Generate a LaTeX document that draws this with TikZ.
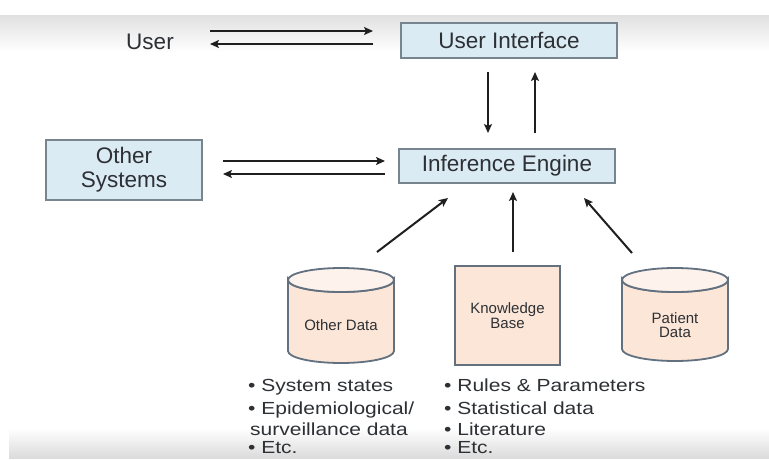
\documentclass[tikz,border=0pt]{standalone}
\usepackage{fontspec}
\setmainfont{Liberation Sans}
\usetikzlibrary{arrows.meta}
\definecolor{boxfill}{RGB}{219,235,243}
\definecolor{boxdraw}{RGB}{120,133,143}
\definecolor{cylfill}{RGB}{252,230,216}
\definecolor{cyltop}{RGB}{253,242,236}
\definecolor{cyldraw}{RGB}{98,112,128}
\definecolor{txt}{RGB}{45,48,52}
\newcommand{\widetxt}[1]{\scalebox{1.2}[1]{#1}}
\begin{document}
\begin{tikzpicture}[x=1pt,y=-1pt,
  bluebox/.style={draw=boxdraw, fill=boxfill, line width=1.6pt, text=txt,
    font=\fontsize{22.5}{24}\selectfont, inner sep=0pt, align=center},
  headtxt/.style={text=txt, font=\fontsize{22.5}{24}\selectfont, inner sep=0pt, align=center},
  smalltxt/.style={text=txt, font=\fontsize{15}{15}\selectfont, inner sep=0pt, align=center},
  listtxt/.style={text=txt, font=\fontsize{17.5}{20}\selectfont, inner sep=0pt, anchor=base west},
  cylbody/.style={draw=cyldraw, fill=cylfill, line width=1.8pt},
  cyltopst/.style={draw=cyldraw, fill=cyltop, line width=1.8pt},
  arr/.style={draw=black!88, line width=2pt, -{Stealth[length=9pt,width=8pt,inset=2pt]}}]
% background
\useasboundingbox (0,0) rectangle (769,459);
\fill[white] (0,0) rectangle (769,459);
\shade[top color=black!12, bottom color=white] (0,15) rectangle (769,52);
\shade[top color=white, bottom color=black!14] (9,428) rectangle (769,458);

% top row
\node[headtxt] (user) at (150,42) {User};
\node[bluebox, minimum width=216pt, minimum height=35pt] (ui) at (509,40.5) {User Interface};

% middle row
\node[bluebox, minimum width=156pt, minimum height=60pt] (os) at (124,170) {Other\\Systems};
\node[bluebox, minimum width=216pt, minimum height=34pt] (ie) at (507,166) {Inference Engine};

% cylinders
\filldraw[cylbody] (288,280) -- (288,351) arc[start angle=180,end angle=0,x radius=53,y radius=12] -- (394,280) arc[start angle=0,end angle=180,x radius=53,y radius=12] -- cycle;
\filldraw[cyltopst] (341,280) ellipse[x radius=53,y radius=12];
\node[smalltxt] (od) at (341,325) {Other Data};

\filldraw[cylbody] (622,280) -- (622,349) arc[start angle=180,end angle=0,x radius=53,y radius=12] -- (728,280) arc[start angle=0,end angle=180,x radius=53,y radius=12] -- cycle;
\filldraw[cyltopst] (675,280) ellipse[x radius=53,y radius=12];
\node[smalltxt, font=\fontsize{15}{14}\selectfont] (pd) at (675,325) {Patient\\Data};

% knowledge base
\node[draw=cyldraw, fill=cylfill, line width=1.8pt, minimum width=105pt, minimum height=99pt, inner sep=0pt] (kb) at (507.5,315.5) {};
\node[smalltxt, font=\fontsize{15}{15}\selectfont] (kbt) at (507.5,316) {Knowledge\\Base};

% lists
\node[listtxt] (l1) at (248,391) {\widetxt{• System states}};
\node[listtxt] (l2) at (248,414) {\widetxt{• Epidemiological/}};
\node[listtxt] (l3) at (250,435) {\widetxt{surveillance data}};
\node[listtxt] (l4) at (248,453) {\widetxt{• Etc.}};
\node[listtxt] (r1) at (444,391) {\widetxt{• Rules \& Parameters}};
\node[listtxt] (r2) at (444,414) {\widetxt{• Statistical data}};
\node[listtxt] (r3) at (444,435) {\widetxt{• Literature}};
\node[listtxt] (r4) at (444,453) {\widetxt{• Etc.}};

% arrow end points
\coordinate (uA) at (210,31); \coordinate (uiA) at (373,31);
\coordinate (uB) at (210,44); \coordinate (uiB) at (373,44);
\coordinate (uiC) at (488,72); \coordinate (ieC) at (488,133);
\coordinate (uiD) at (535,72); \coordinate (ieD) at (535,133);
\coordinate (osA) at (223,161); \coordinate (ieA) at (385,161);
\coordinate (osB) at (223,174); \coordinate (ieB) at (385,174);
\coordinate (odO) at (377,252); \coordinate (ieE) at (448,198);
\coordinate (kbO) at (513,252); \coordinate (ieF) at (513,192);
\coordinate (pdO) at (632,253); \coordinate (ieG) at (584,198);

% arrows
\draw[arr] (uA) -- (uiA);
\draw[arr] (uiB) -- (uB);
\draw[arr] (uiC) -- (ieC);
\draw[arr] (ieD) -- (uiD);
\draw[arr] (osA) -- (ieA);
\draw[arr] (ieB) -- (osB);
\draw[arr] (odO) -- (ieE);
\draw[arr] (kbO) -- (ieF);
\draw[arr] (pdO) -- (ieG);
\end{tikzpicture}
\end{document}
